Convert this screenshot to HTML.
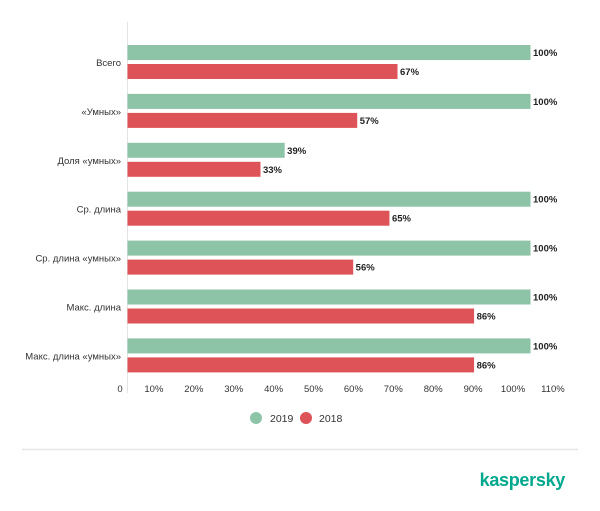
<!DOCTYPE html>
<html><head><meta charset="utf-8"><style>
body{margin:0;background:#fff;width:600px;height:511px;overflow:hidden;font-family:"Liberation Sans",sans-serif}
</style></head><body>
<svg id="chart" width="600" height="511" xmlns="http://www.w3.org/2000/svg" style="position:absolute;left:0;top:0">
<line x1="127.5" y1="22" x2="127.5" y2="393" stroke="#e4e4e4" stroke-width="1"/>
<line x1="22" y1="449.5" x2="578" y2="449.5" stroke="#e6e6e6" stroke-width="1.5"/>
<g>
<circle cx="256" cy="418" r="6" fill="#8dc3a7"/>
<text x="270" y="422" font-size="10.5" fill="#333">2019</text>
<circle cx="306" cy="418" r="6" fill="#dd5357"/>
<text x="319" y="422" font-size="10.5" fill="#333">2018</text>
</g>
<text x="565" y="486" text-anchor="end" font-size="18" fill="#00a88e" font-weight="bold" letter-spacing="-0.3">kaspersky</text>
<g id="bars"></g>
</svg>
<script>
const categories=["Всего","«Умных»","Доля «умных»","Ср. длина","Ср. длина «умных»","Макс. длина","Макс. длина «умных»"];
const series2019=[100,100,39,100,100,100,100];
const series2018=[67,57,33,65,56,86,86];
const tickLabels=["0","10%","20%","30%","40%","50%","60%","70%","80%","90%","100%","110%"];
const NS="http://www.w3.org/2000/svg";
const g=document.getElementById("bars");
const x0=127, unit=4.03;
function xs(v){return x0+v*unit;}
function groupTop(i){return 45+i*48.9;}
function mk(tag,attrs){const e=document.createElementNS(NS,tag);for(const k in attrs)e.setAttribute(k,attrs[k]);g.appendChild(e);return e;}
categories.forEach((c,i)=>{
  const t=groupTop(i);
  const lab=mk("text",{x:121,y:t+21,"text-anchor":"end","font-size":"9.5",fill:"#333"});
  lab.textContent=c;
  
  
  const b1=mk("rect",{x:x0+0.5,y:t,width:xs(series2019[i])-x0,height:15,fill:"#8dc3a7"});
  
  
  const v1=mk("text",{x:xs(series2019[i])+3,y:t+11,"font-size":"9.5","font-weight":"bold",fill:"#222"});
  v1.textContent=series2019[i]+"%";
  
  
  const b2=mk("rect",{x:x0+0.5,y:t+19,width:xs(series2018[i])-x0,height:15,fill:"#dd5357"});
  
  
  const v2=mk("text",{x:xs(series2018[i])+3,y:t+30,"font-size":"9.5","font-weight":"bold",fill:"#222"});
  v2.textContent=series2018[i]+"%";
  
  
});
tickLabels.forEach((l,i)=>{
  const cx=i===0?120:114+i*39.9;
  const t=mk("text",{x:cx,y:392,"text-anchor":"middle","font-size":"9.5",fill:"#333"});
  t.textContent=l;
  
  
});
</script>
</body></html>
